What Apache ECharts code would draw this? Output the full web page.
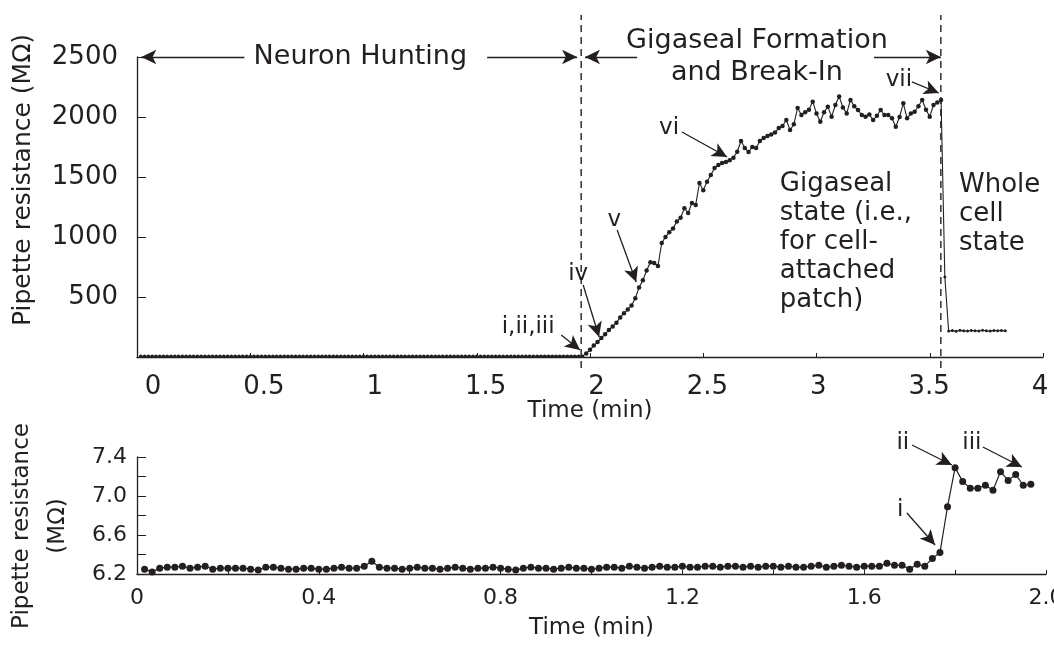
<!DOCTYPE html>
<html><head><meta charset="utf-8">
<script src="https://cdn.jsdelivr.net/npm/echarts@6/dist/echarts.min.js"></script>
<style>html,body{margin:0;padding:0;background:#fff}#c{width:1054px;height:645px}</style>
</head><body><div id="c"></div>
<script>
// ---- data (MΩ), one sample per second ----
const SAMPLE_MIN = 1 / 60;
// neuron hunting phase (first ~2 min), also shown zoomed in the lower panel
const huntingValues = [
  6.25, 6.22, 6.26, 6.27, 6.27, 6.28, 6.26, 6.27, 6.28, 6.25,
  6.26, 6.26, 6.26, 6.26, 6.25, 6.24, 6.27, 6.27, 6.26, 6.25,
  6.25, 6.26, 6.26, 6.25, 6.25, 6.26, 6.27, 6.26, 6.26, 6.28,
  6.33, 6.27, 6.26, 6.26, 6.25, 6.26, 6.27, 6.26, 6.26, 6.25,
  6.26, 6.27, 6.26, 6.25, 6.26, 6.26, 6.27, 6.26, 6.25, 6.24,
  6.26, 6.27, 6.26, 6.26, 6.25, 6.26, 6.27, 6.26, 6.26, 6.25,
  6.26, 6.27, 6.27, 6.26, 6.28, 6.27, 6.26, 6.27, 6.28, 6.27,
  6.27, 6.28, 6.27, 6.27, 6.28, 6.28, 6.27, 6.28, 6.28, 6.27,
  6.28, 6.27, 6.28, 6.28, 6.27, 6.28, 6.27, 6.27, 6.28, 6.29,
  6.27, 6.28, 6.29, 6.28, 6.27, 6.28, 6.28, 6.28, 6.31, 6.29,
  6.29, 6.25, 6.30, 6.28, 6.36, 6.42, 6.89, 7.29, 7.15, 7.08,
  7.08, 7.11, 7.06, 7.25, 7.16, 7.22, 7.11, 7.12
];
// gigaseal formation and break-in
const gigasealValues = [
  30, 60, 95, 125, 158, 190, 225, 255, 285, 330,
  365, 395, 430, 490, 580, 640, 720, 790, 783, 758,
  950, 1000, 1040, 1070, 1130, 1160, 1240, 1200, 1283, 1267,
  1450, 1390, 1460, 1517, 1575, 1600, 1617, 1625, 1640, 1660,
  1710, 1800, 1742, 1708, 1750, 1742, 1800, 1825, 1842, 1855,
  1870, 1908, 1925, 1975, 1892, 1940, 2075, 2017, 2040, 2060,
  2128, 2030, 1961, 2040, 2086, 2003, 2100, 2170, 2080, 2030,
  2142, 2090, 2058, 2017, 2003, 2020, 1975, 2010, 2058, 2017,
  2017, 1990, 1919, 2000, 2114, 1989, 2030, 2044, 2090, 2142,
  2060, 2003, 2100, 2120, 2142
];
// whole cell state
const wholeCellValues = [667, 217, 220, 215, 222, 218, 216, 221, 219, 217, 223, 218, 216, 220, 219, 221, 218];

// phase boundaries (min)
const T_GIGASEAL_START = 1.961;
const T_BREAK_IN = 3.549;

// ---- build series ----
const topValues = huntingValues.concat(gigasealValues, wholeCellValues);
const topData = topValues.map((v, i) => [(i + 1) * SAMPLE_MIN, v]);
const bottomData = huntingValues.map((v, i) => [(i + 1) * SAMPLE_MIN, v]);

const FONT = 'DejaVu Sans';
const INK = '#231f20';
const axisLine = { show: true, lineStyle: { color: INK, width: 1.3 } };

function txt(coord, text, size, extra) {
  return Object.assign({
    coord, symbolSize: 0, itemStyle: { color: 'transparent' },
    label: Object.assign({ show: true, formatter: text, position: 'inside', fontSize: size,
      fontFamily: FONT, color: INK }, extra || {})
  });
}
function arrow(from, to, startArrow, endArrow) {
  return [
    { coord: from, symbol: startArrow ? 'arrow' : 'none' },
    { coord: to, symbol: endArrow ? 'arrow' : 'none' }
  ];
}
const markLineBase = {
  silent: true, animation: false, symbolSize: [11, 15], precision: 6,
  label: { show: false }, emphasis: { disabled: true },
  lineStyle: { color: INK, width: 1.3, type: 'solid' }
};

const chart = echarts.init(document.getElementById('c'));
chart.setOption({
  animation: false,
  backgroundColor: '#fff',
  textStyle: { fontFamily: FONT, color: INK },
  grid: [
    { left: 137, right: 11, top: 57, height: 300, outerBoundsMode: 'none' },
    { left: 137, right: 8, top: 457, height: 117, outerBoundsMode: 'none' },
    { left: 153, right: 14, top: 57, height: 300, outerBoundsMode: 'none' },
    { left: 137, right: 8, top: 437.5, height: 136.5, outerBoundsMode: 'none' }
  ],
  xAxis: [
    { gridIndex: 0, type: 'value', min: 0, max: 4, interval: 0.5,
      axisLine, axisTick: { show: true, inside: true, length: 4, lineStyle: { color: INK } },
      axisLabel: { show: false }, splitLine: { show: false },
      name: 'Time (min)', nameLocation: 'middle', nameGap: 43,
      nameTextStyle: { fontSize: 23, fontFamily: FONT, color: INK } },
    { gridIndex: 1, type: 'value', min: 0, max: 2, interval: 0.2,
      axisLine, axisTick: { show: true, inside: true, length: 4, lineStyle: { color: INK } },
      axisLabel: { fontSize: 22, margin: 13, color: INK, fontFamily: FONT,
        formatter: v => { const k = Math.round(v * 10); if (k % 4 !== 0) return ''; return k === 0 ? '0' : v.toFixed(1); } },
      splitLine: { show: false },
      name: 'Time (min)', nameLocation: 'middle', nameGap: 43,
      nameTextStyle: { fontSize: 23, fontFamily: FONT, color: INK } },
    { gridIndex: 2, type: 'value', min: 0, max: 4, interval: 0.5,
      axisLine: { show: false }, axisTick: { show: false }, splitLine: { show: false },
      axisLabel: { fontSize: 26, margin: 17, color: INK, fontFamily: FONT } },
    { gridIndex: 3, type: 'value', min: 0, max: 2, show: false }
  ],
  yAxis: [
    { gridIndex: 0, type: 'value', min: 0, max: 2500, interval: 500,
      axisLine, axisTick: { show: true, inside: true, length: 9, lineStyle: { color: INK } },
      axisLabel: { fontSize: 26, margin: 19, color: INK, fontFamily: FONT, formatter: v => v === 0 ? '' : String(v) },
      splitLine: { show: false } },
    { gridIndex: 1, type: 'value', min: 6.2, max: 7.4, interval: 0.2,
      axisLine, axisTick: { show: true, inside: true, length: 9, lineStyle: { color: INK } },
      axisLabel: { fontSize: 22, margin: 10, color: INK, fontFamily: FONT,
        formatter: v => { const k = Math.round(v * 10); return k % 4 === 2 ? (k / 10).toFixed(1) : ''; } },
      splitLine: { show: false } },
    { gridIndex: 2, type: 'value', min: 0, max: 2500, show: false },
    { gridIndex: 3, type: 'value', min: 6.2, max: 7.6, show: false }
  ],
  graphic: [
    { type: 'text', x: 23, y: 180, rotation: Math.PI / 2, silent: true,
      style: { text: 'Pipette resistance (MΩ)', fontSize: 25, fontFamily: FONT, fill: INK,
        align: 'center', verticalAlign: 'middle' } },
    { type: 'text', x: 40, y: 526, rotation: Math.PI / 2, silent: true,
      style: { text: 'Pipette resistance\n(MΩ)', fontSize: 23, lineHeight: 36, fontFamily: FONT, fill: INK,
        align: 'center', verticalAlign: 'middle' } }
  ],
  series: [
    { type: 'line', xAxisIndex: 0, yAxisIndex: 0, data: topData, silent: true, z: 3,
      showSymbol: true, showAllSymbol: true, symbol: 'circle',
      symbolSize: v => v[0] > 3.56 ? 3 : (v[1] < 20 ? 3.5 : 4.5),
      itemStyle: { color: INK }, lineStyle: { color: INK, width: 1.1 } },
    { type: 'line', xAxisIndex: 0, yAxisIndex: 0, clip: false, silent: true, symbol: 'none',
      data: [[T_GIGASEAL_START, -92], [T_GIGASEAL_START, 2850]],
      lineStyle: { color: INK, width: 1.4, type: [7, 5] },
      markLine: Object.assign({}, markLineBase, { data: [
        arrow([0.019, 2500], [0.474, 2500], true, false),
        arrow([1.546, 2500], [1.943, 2500], false, true),
        arrow([1.978, 2500], [2.208, 2500], true, false),
        arrow([3.254, 2500], [3.549, 2500], false, true),
        arrow([1.873, 183], [1.956, 58], false, true),
        arrow([1.970, 600], [2.040, 167], false, true),
        arrow([2.120, 1058], [2.204, 625], false, true),
        arrow([2.406, 1875], [2.605, 1667], false, true),
        arrow([3.421, 2292], [3.540, 2200], false, true)
      ] }),
      markPoint: { silent: true, animation: false, data: [
        txt([0.986, 2500], 'Neuron Hunting', 27),
        txt([2.737, 2500], 'Gigaseal Formation\nand Break-In', 27, { lineHeight: 32 }),
        txt([2.838, 958], 'Gigaseal\nstate (i.e.,\nfor cell-\nattached\npatch)', 26,
          { position: 'right', distance: 0, align: 'left', lineHeight: 29 }),
        txt([3.629, 1192], 'Whole\ncell\nstate', 26,
          { position: 'right', distance: 0, align: 'left', lineHeight: 29 }),
        txt([1.727, 250], 'i,ii,iii', 23),
        txt([1.948, 692], 'iv', 23),
        txt([2.107, 1142], 'v', 23),
        txt([2.349, 1908], 'vi', 23),
        txt([3.364, 2308], 'vii', 23)
      ] } },
    { type: 'line', xAxisIndex: 0, yAxisIndex: 0, clip: false, silent: true, symbol: 'none',
      data: [[T_BREAK_IN, -92], [T_BREAK_IN, 2850]],
      lineStyle: { color: INK, width: 1.4, type: [7, 5] } },
    { type: 'line', xAxisIndex: 1, yAxisIndex: 1, data: bottomData, silent: true,
      showSymbol: true, showAllSymbol: true, symbol: 'circle', symbolSize: 7,
      itemStyle: { color: INK }, lineStyle: { color: INK, width: 1.2 } },
    { type: 'line', xAxisIndex: 3, yAxisIndex: 3, data: [], clip: false, silent: true,
      markLine: Object.assign({}, markLineBase, { data: [
        arrow([1.705, 7.523], [1.793, 7.318], false, true),
        arrow([1.861, 7.503], [1.947, 7.297], false, true),
        arrow([1.694, 6.826], [1.756, 6.497], false, true)
      ] }),
      markPoint: { silent: true, animation: false, data: [
        txt([1.685, 7.544], 'ii', 23),
        txt([1.837, 7.544], 'iii', 23),
        txt([1.679, 6.856], 'i', 23)
      ] } }
  ]
});
</script></body></html>
